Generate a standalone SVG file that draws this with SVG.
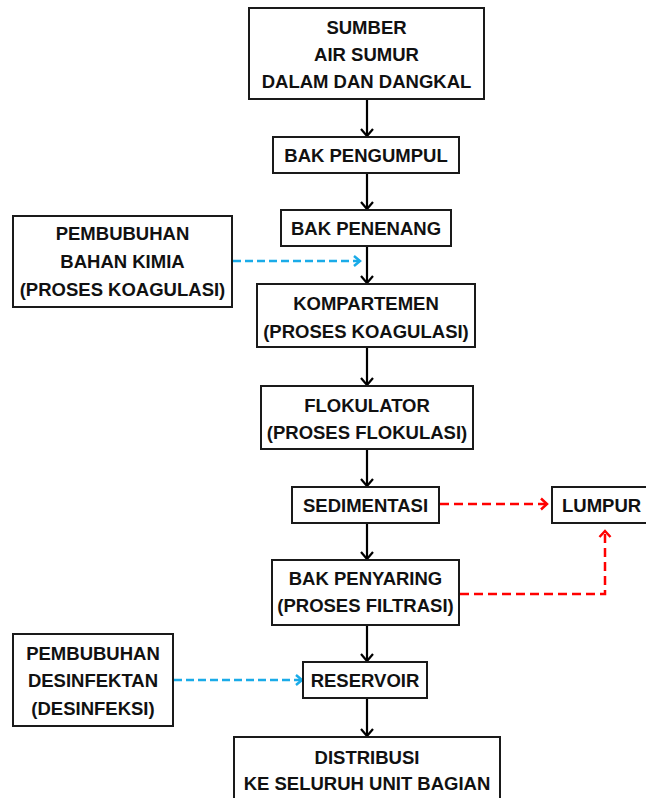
<svg xmlns="http://www.w3.org/2000/svg" width="646" height="798" viewBox="0 0 646 798">
<style>
.box{fill:#fff;stroke:#1a1a1a;stroke-width:2}
.t{font-family:"Liberation Sans",Arial,sans-serif;font-weight:bold;font-size:18.5px;fill:#111;text-anchor:middle}
.ar{fill:none;stroke:#000;stroke-width:2.2}
.bl{fill:none;stroke:#1aabe8;stroke-width:2.5;stroke-dasharray:8 4}
.rd{fill:none;stroke:#ff0000;stroke-width:2.5;stroke-dasharray:9 5}
</style>
<defs>
<marker id="ab" markerWidth="14" markerHeight="14" refX="10" refY="7" orient="auto" markerUnits="userSpaceOnUse"><path d="M3,1 L10,7 L3,13" fill="none" stroke="#000" stroke-width="2.2"/></marker>
<marker id="abl" markerWidth="14" markerHeight="14" refX="10" refY="7" orient="auto" markerUnits="userSpaceOnUse"><path d="M4,2 L10,7 L4,12" fill="none" stroke="#1aabe8" stroke-width="2.5"/></marker>
<marker id="ard" markerWidth="14" markerHeight="14" refX="10" refY="7" orient="auto" markerUnits="userSpaceOnUse"><path d="M4,1.5 L10,7 L4,12.5" fill="none" stroke="#ff0000" stroke-width="2.5"/></marker>
</defs>
<rect width="646" height="798" fill="#fff"/>
<g id="connectors">
<line class="ar" x1="367" y1="99" x2="367" y2="136" marker-end="url(#ab)"/>
<line class="ar" x1="367" y1="173" x2="367" y2="209" marker-end="url(#ab)"/>
<line class="ar" x1="367" y1="246" x2="367" y2="283" marker-end="url(#ab)"/>
<line class="ar" x1="367" y1="347" x2="367" y2="385" marker-end="url(#ab)"/>
<line class="ar" x1="367" y1="449" x2="367" y2="486" marker-end="url(#ab)"/>
<line class="ar" x1="367" y1="523" x2="367" y2="559" marker-end="url(#ab)"/>
<line class="ar" x1="367" y1="625" x2="367" y2="661" marker-end="url(#ab)"/>
<line class="ar" x1="367" y1="698" x2="367" y2="736" marker-end="url(#ab)"/>
<line class="bl" x1="233" y1="261" x2="360" y2="261" marker-end="url(#abl)"/>
<line class="bl" x1="174" y1="680" x2="302" y2="680" marker-end="url(#abl)"/>
<line class="rd" x1="440" y1="504" x2="547" y2="504" marker-end="url(#ard)"/>
<polyline class="rd" points="460,594 605,594 605,531" marker-end="url(#ard)"/>
</g>
<g id="sumber"><rect class="box" x="249" y="8" width="235" height="91"/>
<text class="t" x="366.5" y="33.5">SUMBER</text><text class="t" x="366.5" y="60.5">AIR SUMUR</text><text class="t" x="366.5" y="87.5">DALAM DAN DANGKAL</text></g>
<g id="pengumpul"><rect class="box" x="273" y="137" width="186" height="36"/>
<text class="t" x="366" y="161.5">BAK PENGUMPUL</text></g>
<g id="penenang"><rect class="box" x="281" y="210" width="170" height="36"/>
<text class="t" x="366" y="234.5">BAK PENENANG</text></g>
<g id="kimia"><rect class="box" x="13" y="216" width="219" height="91"/>
<text class="t" x="122.5" y="239.5">PEMBUBUHAN</text><text class="t" x="122.5" y="267.5">BAHAN KIMIA</text><text class="t" x="122.5" y="295.5">(PROSES KOAGULASI)</text></g>
<g id="kompartemen"><rect class="box" x="257" y="284" width="218" height="63"/>
<text class="t" x="366" y="309.5">KOMPARTEMEN</text><text class="t" x="366" y="337.5">(PROSES KOAGULASI)</text></g>
<g id="flokulator"><rect class="box" x="261" y="386" width="212" height="63"/>
<text class="t" x="367" y="411.5">FLOKULATOR</text><text class="t" x="367" y="438.5">(PROSES FLOKULASI)</text></g>
<g id="sedimentasi"><rect class="box" x="292" y="487" width="147" height="36"/>
<text class="t" x="365.5" y="511.5">SEDIMENTASI</text></g>
<g id="lumpur"><rect class="box" x="552" y="487" width="110" height="36"/>
<text class="t" x="562" y="511.5" style="text-anchor:start">LUMPUR</text></g>
<g id="penyaring"><rect class="box" x="272" y="560" width="187" height="65"/>
<text class="t" x="365.5" y="584.5">BAK PENYARING</text><text class="t" x="365.5" y="611.5">(PROSES FILTRASI)</text></g>
<g id="desinfektan"><rect class="box" x="13" y="634" width="160" height="92"/>
<text class="t" x="93" y="659.5">PEMBUBUHAN</text><text class="t" x="93" y="686.5">DESINFEKTAN</text><text class="t" x="93" y="714.5">(DESINFEKSI)</text></g>
<g id="reservoir"><rect class="box" x="303" y="662" width="124" height="36"/>
<text class="t" x="365" y="686.5">RESERVOIR</text></g>
<g id="distribusi"><rect class="box" x="234" y="737" width="266" height="70"/>
<text class="t" x="367" y="763.5">DISTRIBUSI</text><text class="t" x="367" y="789.5">KE SELURUH UNIT BAGIAN</text></g>
</svg>
